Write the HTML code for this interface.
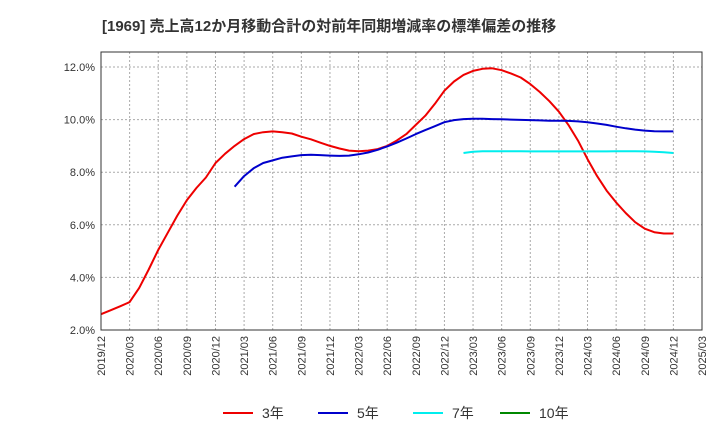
<!DOCTYPE html>
<html><head><meta charset="utf-8"><style>
body{margin:0;background:#fff;font-family:"Liberation Sans","Noto Sans CJK JP",sans-serif;}
</style></head><body>
<svg width="720" height="440" xmlns="http://www.w3.org/2000/svg" style="font-family:'Liberation Sans','Noto Sans CJK JP',sans-serif">
<text x="102" y="31" font-size="15" font-weight="bold" fill="#333">[1969]  売上高12か月移動合計の対前年同期増減率の標準偏差の推移</text>
<g id="grid"></g><g id="series"></g><g id="axes"></g>
<g font-size="14" fill="#333">
<g><line x1="223" y1="413" x2="253" y2="413" stroke="#e00" stroke-width="2"/><text x="262" y="418">3年</text></g>
<g><line x1="318" y1="413" x2="348" y2="413" stroke="#00c" stroke-width="2"/><text x="357" y="418">5年</text></g>
<g><line x1="413" y1="413" x2="443" y2="413" stroke="#0ee" stroke-width="2"/><text x="452" y="418">7年</text></g>
<g><line x1="500" y1="413" x2="530" y2="413" stroke="#080" stroke-width="2"/><text x="539" y="418">10年</text></g>
</g>
</svg>
<script>
const yTicks=[2,4,6,8,10,12];
const xTickLabels=["2019/12","2020/03","2020/06","2020/09","2020/12","2021/03","2021/06","2021/09","2021/12","2022/03","2022/06","2022/09","2022/12","2023/03","2023/06","2023/09","2023/12","2024/03","2024/06","2024/09","2024/12","2025/03"];
// monthly values, index 0 = 2019/12
const s3=[2.6,2.75,2.9,3.06,3.6,4.3,5.04,5.7,6.35,6.94,7.4,7.8,8.35,8.7,9.0,9.26,9.45,9.52,9.55,9.52,9.47,9.35,9.25,9.12,9.0,8.9,8.82,8.8,8.82,8.88,9.0,9.2,9.45,9.8,10.15,10.6,11.1,11.45,11.7,11.85,11.93,11.95,11.88,11.75,11.6,11.35,11.05,10.7,10.3,9.8,9.2,8.5,7.85,7.3,6.85,6.45,6.1,5.85,5.72,5.67,5.67];
const s5Start=14;
const s5=[7.45,7.85,8.15,8.35,8.45,8.55,8.6,8.65,8.66,8.65,8.63,8.62,8.63,8.68,8.75,8.85,8.98,9.12,9.28,9.45,9.6,9.75,9.9,9.98,10.02,10.03,10.03,10.02,10.01,10.0,9.99,9.98,9.97,9.96,9.96,9.95,9.93,9.9,9.85,9.8,9.73,9.67,9.62,9.58,9.56,9.55,9.55];
const s7Start=38;
const s7=[8.73,8.78,8.8,8.8,8.8,8.8,8.8,8.79,8.79,8.79,8.79,8.79,8.79,8.79,8.79,8.79,8.8,8.8,8.8,8.79,8.78,8.76,8.73];
const L=101,R=702,T=52,B=330;
const x=m=>L+m*(R-L)/63, y=v=>B-(v-2)*(B-67)/10;
const NS="http://www.w3.org/2000/svg";
function mk(t,a,p){const e=document.createElementNS(NS,t);for(const k in a)e.setAttribute(k,a[k]);p.appendChild(e);return e;}
const grid=document.getElementById('grid'),axes=document.getElementById('axes'),ser=document.getElementById('series');
mk('rect',{x:L,y:T,width:R-L,height:B-T,fill:'none',stroke:'#333','stroke-width':1},axes);
yTicks.forEach(v=>{const l=mk('line',{x1:L,x2:R,y1:y(v),y2:y(v),stroke:'#aaa','stroke-dasharray':'2,2'},grid);


const t=mk('text',{x:L-6,y:y(v)+4,'text-anchor':'end','font-size':11,fill:'#333'},axes);t.textContent=v.toFixed(1)+'%';

});
xTickLabels.forEach((s,i)=>{const xx=x(i*3);const l=mk('line',{x1:xx,x2:xx,y1:T,y2:B,stroke:'#aaa','stroke-dasharray':'2,2'},grid);


const t=mk('text',{x:xx+4,y:B+6,'text-anchor':'end','font-size':11,fill:'#333',transform:`rotate(-90 ${xx+4} ${B+6})`},axes);t.textContent=s;

});
function line(arr,start,col,name){const d=arr.map((v,i)=>(i?'L':'M')+x(start+i).toFixed(1)+' '+y(v).toFixed(1)).join(' ');
const p=mk('path',{d:d,fill:'none',stroke:col,'stroke-width':2,'stroke-linejoin':'round'},ser);

}
line(s3,0,'#e00','series-3y');line(s5,s5Start,'#00c','series-5y');line(s7,s7Start,'#0ee','series-7y');
</script>
</body></html>
